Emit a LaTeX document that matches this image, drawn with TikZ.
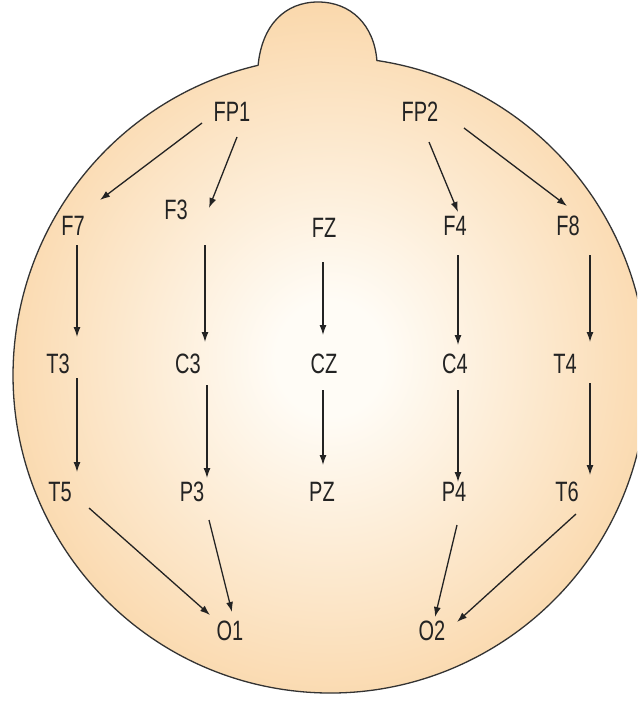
\documentclass[tikz,border=0pt]{standalone}
\usepackage{fontspec}
\usepackage{graphicx}
\setmainfont{Liberation Sans}
\usetikzlibrary{arrows.meta}
\definecolor{hout}{RGB}{250,216,172}
\definecolor{hin}{RGB}{255,252,246}
\definecolor{ink}{RGB}{35,35,35}
\pgfdeclareradialshading{headshade}{\pgfpointorigin}{color(0bp)=(hin); color(4bp)=(hin); color(25bp)=(hout); color(50bp)=(hout)}
\newcommand{\tallt}[1]{\scalebox{1}[1.4]{#1}}
\tikzset{
  lbl/.style={text=ink, inner sep=0pt, font=\fontsize{20}{20}\selectfont},
  arr/.style={draw=ink, line width=1.3pt, -{Latex[length=10pt,width=7pt]}},
  headline/.style={draw=black!80, line width=1.3pt}
}
\begin{document}
\begin{tikzpicture}[x=1pt,y=-1pt]
\useasboundingbox (0,0) rectangle (637,701);
\fill[white] (0,0) rectangle (637,701);
\clip (0,0) rectangle (637,701);
% head with nose
\shadedraw[shading=headshade, headline]
  (258.1,65.3) .. controls (262,25) and (285,2) .. (318,2)
  .. controls (351,2) and (374,25) .. (376.9,60.5)
  arc[start angle=-81.5, end angle=256.9, x radius=317, y radius=318] -- cycle;
% electrode labels
\node[lbl] (FP1) at (232,112) {\tallt{FP1}};
\node[lbl] (FP2) at (420,112) {\tallt{FP2}};
\node[lbl] (F7) at (73,226) {\tallt{F7}};
\node[lbl] (F3) at (176,210) {\tallt{F3}};
\node[lbl] (FZ) at (324,228) {\tallt{FZ}};
\node[lbl] (F4) at (455,226) {\tallt{F4}};
\node[lbl] (F8) at (568,226) {\tallt{F8}};
\node[lbl] (T3) at (58,364) {\tallt{T3}};
\node[lbl] (C3) at (188,364) {\tallt{C3}};
\node[lbl] (CZ) at (324,364) {\tallt{CZ}};
\node[lbl] (C4) at (455,364) {\tallt{C4}};
\node[lbl] (T4) at (565,364) {\tallt{T4}};
\node[lbl] (T5) at (60,492) {\tallt{T5}};
\node[lbl] (P3) at (192,492) {\tallt{P3}};
\node[lbl] (PZ) at (322,492) {\tallt{PZ}};
\node[lbl] (P4) at (454,492) {\tallt{P4}};
\node[lbl] (T6) at (567,492) {\tallt{T6}};
\node[lbl] (O1) at (230,631) {\tallt{O1}};
\node[lbl] (O2) at (432,631) {\tallt{O2}};
% connectors
\draw[arr] ([shift={(-30,11)}]FP1.center) -- ([shift={(27,-26)}]F7.center);
\draw[arr] ([shift={(5,25)}]FP1.center) -- ([shift={(33,-2)}]F3.center);
\draw[arr] ([shift={(9,30)}]FP2.center) -- ([shift={(3,-14)}]F4.center);
\draw[arr] ([shift={(44,16)}]FP2.center) -- ([shift={(-1,-20)}]F8.center);
\draw[arr] ([shift={(4,19)}]F7.center) -- ([shift={(19,-27)}]T3.center);
\draw[arr] ([shift={(19,14)}]T3.center) -- ([shift={(17,-20)}]T5.center);
\draw[arr] ([shift={(29,35)}]F3.center) -- ([shift={(17,-22)}]C3.center);
\draw[arr] ([shift={(19,21)}]C3.center) -- ([shift={(15,-14)}]P3.center);
\draw[arr] ([shift={(-1,34)}]FZ.center) -- ([shift={(-1,-29)}]CZ.center);
\draw[arr] ([shift={(-1,26)}]CZ.center) -- ([shift={(1,-27)}]PZ.center);
\draw[arr] ([shift={(3,29)}]F4.center) -- ([shift={(3,-19)}]C4.center);
\draw[arr] ([shift={(3,26)}]C4.center) -- ([shift={(4,-10)}]P4.center);
\draw[arr] ([shift={(22,29)}]F8.center) -- ([shift={(25,-22)}]T4.center);
\draw[arr] ([shift={(25,19)}]T4.center) -- ([shift={(23,-17)}]T6.center);
\draw[arr] ([shift={(29,16)}]T5.center) -- ([shift={(-20,-16)}]O1.center);
\draw[arr] ([shift={(17,28)}]P3.center) -- ([shift={(2,-19)}]O1.center);
\draw[arr] ([shift={(3,33)}]P4.center) -- ([shift={(3,-14)}]O2.center);
\draw[arr] ([shift={(9,22)}]T6.center) -- ([shift={(25,-9)}]O2.center);
\end{tikzpicture}
\end{document}
